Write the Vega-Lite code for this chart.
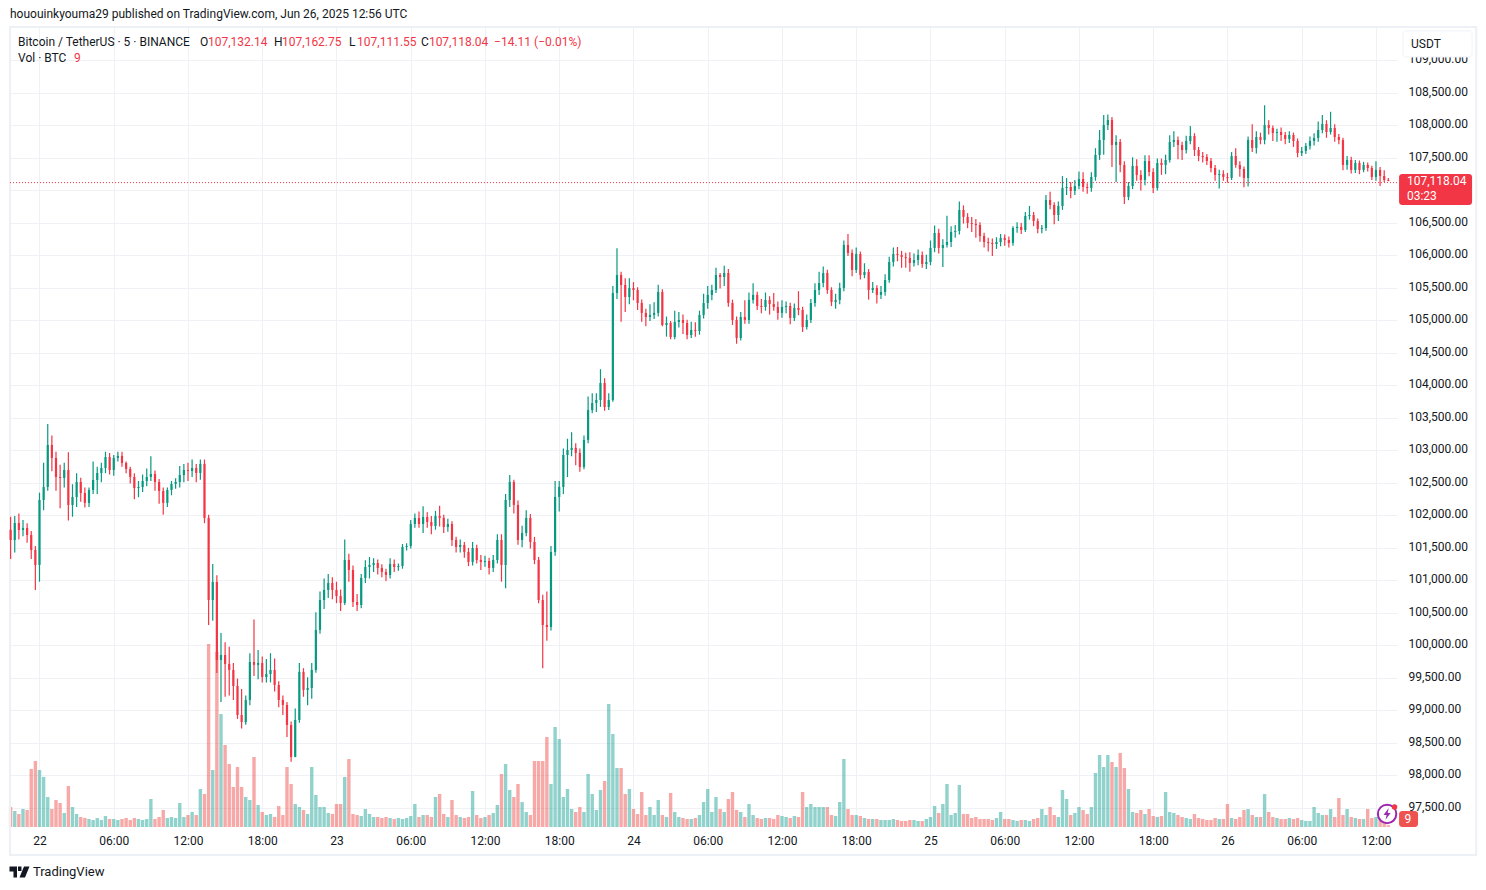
{"$schema":"https://vega.github.io/schema/vega-lite/v6.json","width":1387,"height":800,"autosize":{"type":"none"},"padding":{"left":10,"top":27,"right":89,"bottom":63},"background":"white","config":{"view":{"stroke":null},"font":"Roboto","text":{"font":"Roboto"}},
"datasets":{"boxes":[{"kind":"frame","t":"2025-06-21T21:37Z","t2":"2025-06-26T20:06Z","p":109513,"p2":96774}],
"tags":[{"kind":"usdt","t":"2025-06-26T14:11Z","t2":"2025-06-26T19:46Z","p":109451,"p2":109051},{"kind":"price","t":"2025-06-26T13:52Z","t2":"2025-06-26T19:46Z","p":107251,"p2":106774},{"kind":"vol","t":"2025-06-26T13:52Z","t2":"2025-06-26T15:24Z","p":97451,"p2":97205}],
"line":[{"t":"2025-06-21T21:37Z","t2":"2025-06-26T13:42Z","p":107118.04}],
"notes":[{"kind":"dark","t":"2025-06-21T21:37Z","p":109713,"label":"hououinkyouma29 published on TradingView.com, Jun 26, 2025 12:56 UTC"},{"kind":"dark","t":"2025-06-21T22:16Z","p":109282,"label":"Bitcoin / TetherUS · 5 · BINANCE"},{"kind":"dark","t":"2025-06-22T12:58Z","p":109282,"label":"O"},{"kind":"red","t":"2025-06-22T13:37Z","p":109282,"label":"107,132.14"},{"kind":"dark","t":"2025-06-22T18:57Z","p":109282,"label":"H"},{"kind":"red","t":"2025-06-22T19:36Z","p":109282,"label":"107,162.75"},{"kind":"dark","t":"2025-06-23T01:01Z","p":109282,"label":"L"},{"kind":"red","t":"2025-06-23T01:40Z","p":109282,"label":"107,111.55"},{"kind":"dark","t":"2025-06-23T06:50Z","p":109282,"label":"C"},{"kind":"red","t":"2025-06-23T07:28Z","p":109282,"label":"107,118.04"},{"kind":"red","t":"2025-06-23T12:44Z","p":109282,"label":"−14.11 (−0.01%)"},{"kind":"dark","t":"2025-06-21T22:16Z","p":109036,"label":"Vol · BTC"},{"kind":"red","t":"2025-06-22T02:47Z","p":109036,"label":"9"},{"kind":"dark","t":"2025-06-26T14:50Z","p":109251,"label":"USDT"},{"kind":"white","t":"2025-06-26T14:30Z","p":107145,"label":"107,118.04"},{"kind":"white","t":"2025-06-26T14:30Z","p":106905,"label":"03:23"},{"kind":"white","t":"2025-06-26T14:18Z","p":97328,"label":"9"},{"kind":"brand","t":"2025-06-21T23:28Z","p":96512,"label":"TradingView"}],
"icons":[{"kind":"ring","t":"2025-06-26T12:54Z","p":97405},{"kind":"dot","t":"2025-06-26T13:30Z","p":97513},{"kind":"logo","t":"2025-06-21T22:23Z","p":96512}],
"candles":[
{"t":"2025-06-21T21:40Z","o":101750,"h":101950,"l":101300,"c":101592,"v":100},
{"t":"2025-06-21T22:00Z","o":101592,"h":101960,"l":101400,"c":101854,"v":80},
{"t":"2025-06-21T22:20Z","o":101854,"h":102000,"l":101600,"c":101746,"v":65},
{"t":"2025-06-21T22:40Z","o":101746,"h":101900,"l":101650,"c":101777,"v":90},
{"t":"2025-06-21T23:00Z","o":101777,"h":101850,"l":101550,"c":101669,"v":85},
{"t":"2025-06-21T23:20Z","o":101669,"h":101730,"l":101300,"c":101438,"v":290},
{"t":"2025-06-21T23:40Z","o":101438,"h":101500,"l":100823,"c":101208,"v":330},
{"t":"2025-06-22T00:00Z","o":101208,"h":102320,"l":100950,"c":102208,"v":285},
{"t":"2025-06-22T00:20Z","o":102208,"h":102780,"l":102050,"c":102408,"v":250},
{"t":"2025-06-22T00:40Z","o":102408,"h":103377,"l":102350,"c":103054,"v":150},
{"t":"2025-06-22T01:00Z","o":103054,"h":103200,"l":102650,"c":102854,"v":90},
{"t":"2025-06-22T01:20Z","o":102854,"h":102950,"l":102350,"c":102562,"v":135},
{"t":"2025-06-22T01:40Z","o":102562,"h":102750,"l":102080,"c":102546,"v":120},
{"t":"2025-06-22T02:00Z","o":102546,"h":102780,"l":102400,"c":102669,"v":70},
{"t":"2025-06-22T02:20Z","o":102669,"h":102940,"l":101890,"c":102131,"v":205},
{"t":"2025-06-22T02:40Z","o":102131,"h":102450,"l":101950,"c":102254,"v":100},
{"t":"2025-06-22T03:00Z","o":102254,"h":102620,"l":102100,"c":102485,"v":65},
{"t":"2025-06-22T03:20Z","o":102485,"h":102550,"l":102180,"c":102315,"v":50},
{"t":"2025-06-22T03:40Z","o":102315,"h":102400,"l":102090,"c":102162,"v":45},
{"t":"2025-06-22T04:00Z","o":102162,"h":102400,"l":102100,"c":102362,"v":40},
{"t":"2025-06-22T04:20Z","o":102362,"h":102800,"l":102300,"c":102515,"v":35},
{"t":"2025-06-22T04:40Z","o":102515,"h":102720,"l":102300,"c":102623,"v":45},
{"t":"2025-06-22T05:00Z","o":102623,"h":102780,"l":102480,"c":102700,"v":35},
{"t":"2025-06-22T05:20Z","o":102700,"h":102950,"l":102620,"c":102869,"v":55},
{"t":"2025-06-22T05:40Z","o":102869,"h":102930,"l":102600,"c":102669,"v":40},
{"t":"2025-06-22T06:00Z","o":102669,"h":102900,"l":102580,"c":102854,"v":40},
{"t":"2025-06-22T06:20Z","o":102854,"h":102950,"l":102800,"c":102885,"v":35},
{"t":"2025-06-22T06:40Z","o":102885,"h":102950,"l":102720,"c":102777,"v":40},
{"t":"2025-06-22T07:00Z","o":102777,"h":102800,"l":102620,"c":102685,"v":45},
{"t":"2025-06-22T07:20Z","o":102685,"h":102720,"l":102460,"c":102562,"v":35},
{"t":"2025-06-22T07:40Z","o":102562,"h":102620,"l":102220,"c":102392,"v":45},
{"t":"2025-06-22T08:00Z","o":102392,"h":102500,"l":102250,"c":102408,"v":40},
{"t":"2025-06-22T08:20Z","o":102408,"h":102600,"l":102330,"c":102500,"v":35},
{"t":"2025-06-22T08:40Z","o":102500,"h":102690,"l":102420,"c":102562,"v":40},
{"t":"2025-06-22T09:00Z","o":102562,"h":102880,"l":102500,"c":102608,"v":140},
{"t":"2025-06-22T09:20Z","o":102608,"h":102660,"l":102350,"c":102485,"v":40},
{"t":"2025-06-22T09:40Z","o":102485,"h":102530,"l":102150,"c":102346,"v":50},
{"t":"2025-06-22T10:00Z","o":102346,"h":102400,"l":101980,"c":102162,"v":85},
{"t":"2025-06-22T10:20Z","o":102162,"h":102400,"l":102100,"c":102362,"v":45},
{"t":"2025-06-22T10:40Z","o":102362,"h":102500,"l":102280,"c":102454,"v":50},
{"t":"2025-06-22T11:00Z","o":102454,"h":102540,"l":102380,"c":102485,"v":45},
{"t":"2025-06-22T11:20Z","o":102485,"h":102730,"l":102400,"c":102592,"v":120},
{"t":"2025-06-22T11:40Z","o":102592,"h":102760,"l":102480,"c":102669,"v":50},
{"t":"2025-06-22T12:00Z","o":102669,"h":102780,"l":102500,"c":102654,"v":60},
{"t":"2025-06-22T12:20Z","o":102654,"h":102830,"l":102560,"c":102700,"v":75},
{"t":"2025-06-22T12:40Z","o":102700,"h":102760,"l":102480,"c":102623,"v":60},
{"t":"2025-06-22T13:00Z","o":102623,"h":102830,"l":102520,"c":102762,"v":190},
{"t":"2025-06-22T13:20Z","o":102762,"h":102830,"l":101850,"c":101931,"v":165},
{"t":"2025-06-22T13:40Z","o":101931,"h":101980,"l":100285,"c":100669,"v":915},
{"t":"2025-06-22T14:00Z","o":100669,"h":101223,"l":100350,"c":100946,"v":285},
{"t":"2025-06-22T14:20Z","o":100946,"h":101050,"l":99546,"c":99746,"v":875},
{"t":"2025-06-22T14:40Z","o":99746,"h":100162,"l":99100,"c":99823,"v":565},
{"t":"2025-06-22T15:00Z","o":99823,"h":100020,"l":99180,"c":99685,"v":410},
{"t":"2025-06-22T15:20Z","o":99685,"h":99950,"l":99200,"c":99592,"v":315},
{"t":"2025-06-22T15:40Z","o":99592,"h":99700,"l":99130,"c":99346,"v":200},
{"t":"2025-06-22T16:00Z","o":99346,"h":99460,"l":98840,"c":98900,"v":300},
{"t":"2025-06-22T16:20Z","o":98900,"h":99300,"l":98690,"c":98792,"v":200},
{"t":"2025-06-22T16:40Z","o":98792,"h":99200,"l":98750,"c":99131,"v":150},
{"t":"2025-06-22T17:00Z","o":99131,"h":99850,"l":99050,"c":99715,"v":135},
{"t":"2025-06-22T17:20Z","o":99715,"h":100370,"l":99500,"c":99670,"v":350},
{"t":"2025-06-22T17:40Z","o":99670,"h":99900,"l":99450,"c":99700,"v":110},
{"t":"2025-06-22T18:00Z","o":99700,"h":99800,"l":99400,"c":99485,"v":75},
{"t":"2025-06-22T18:20Z","o":99485,"h":99760,"l":99400,"c":99530,"v":60},
{"t":"2025-06-22T18:40Z","o":99530,"h":99850,"l":99400,"c":99592,"v":65},
{"t":"2025-06-22T19:00Z","o":99592,"h":99770,"l":99260,"c":99362,"v":50},
{"t":"2025-06-22T19:20Z","o":99362,"h":99420,"l":99020,"c":99131,"v":105},
{"t":"2025-06-22T19:40Z","o":99131,"h":99200,"l":98900,"c":99054,"v":60},
{"t":"2025-06-22T20:00Z","o":99054,"h":99100,"l":98560,"c":98746,"v":300},
{"t":"2025-06-22T20:20Z","o":98746,"h":98800,"l":98180,"c":98254,"v":215},
{"t":"2025-06-22T20:40Z","o":98254,"h":99000,"l":98250,"c":98823,"v":115},
{"t":"2025-06-22T21:00Z","o":98823,"h":99700,"l":98780,"c":99562,"v":100},
{"t":"2025-06-22T21:20Z","o":99562,"h":99620,"l":99180,"c":99285,"v":85},
{"t":"2025-06-22T21:40Z","o":99285,"h":99480,"l":99050,"c":99315,"v":65},
{"t":"2025-06-22T22:00Z","o":99315,"h":99700,"l":99150,"c":99592,"v":300},
{"t":"2025-06-22T22:20Z","o":99592,"h":100480,"l":99550,"c":100208,"v":160},
{"t":"2025-06-22T22:40Z","o":100208,"h":100800,"l":100150,"c":100669,"v":100},
{"t":"2025-06-22T23:00Z","o":100669,"h":101000,"l":100530,"c":100823,"v":100},
{"t":"2025-06-22T23:20Z","o":100823,"h":101070,"l":100700,"c":100931,"v":70},
{"t":"2025-06-22T23:40Z","o":100931,"h":101020,"l":100680,"c":100823,"v":65},
{"t":"2025-06-23T00:00Z","o":100823,"h":100950,"l":100620,"c":100731,"v":115},
{"t":"2025-06-23T00:20Z","o":100731,"h":100830,"l":100500,"c":100623,"v":115},
{"t":"2025-06-23T00:40Z","o":100623,"h":101600,"l":100590,"c":101285,"v":250},
{"t":"2025-06-23T01:00Z","o":101285,"h":101380,"l":100950,"c":101131,"v":340},
{"t":"2025-06-23T01:20Z","o":101131,"h":101200,"l":100560,"c":100638,"v":65},
{"t":"2025-06-23T01:40Z","o":100638,"h":100760,"l":100500,"c":100592,"v":60},
{"t":"2025-06-23T02:00Z","o":100592,"h":101070,"l":100540,"c":101008,"v":55},
{"t":"2025-06-23T02:20Z","o":101008,"h":101280,"l":100930,"c":101177,"v":90},
{"t":"2025-06-23T02:40Z","o":101177,"h":101330,"l":101000,"c":101208,"v":65},
{"t":"2025-06-23T03:00Z","o":101208,"h":101310,"l":101100,"c":101238,"v":50},
{"t":"2025-06-23T03:20Z","o":101238,"h":101290,"l":101060,"c":101162,"v":50},
{"t":"2025-06-23T03:40Z","o":101162,"h":101220,"l":101020,"c":101100,"v":45},
{"t":"2025-06-23T04:00Z","o":101100,"h":101150,"l":100960,"c":101054,"v":50},
{"t":"2025-06-23T04:20Z","o":101054,"h":101310,"l":101000,"c":101223,"v":45},
{"t":"2025-06-23T04:40Z","o":101223,"h":101290,"l":101100,"c":101177,"v":40},
{"t":"2025-06-23T05:00Z","o":101177,"h":101230,"l":101120,"c":101192,"v":45},
{"t":"2025-06-23T05:20Z","o":101192,"h":101530,"l":101150,"c":101485,"v":40},
{"t":"2025-06-23T05:40Z","o":101485,"h":101540,"l":101430,"c":101500,"v":45},
{"t":"2025-06-23T06:00Z","o":101500,"h":101900,"l":101460,"c":101838,"v":55},
{"t":"2025-06-23T06:20Z","o":101838,"h":102000,"l":101780,"c":101931,"v":115},
{"t":"2025-06-23T06:40Z","o":101931,"h":102030,"l":101780,"c":101838,"v":50},
{"t":"2025-06-23T07:00Z","o":101838,"h":102110,"l":101700,"c":101946,"v":60},
{"t":"2025-06-23T07:20Z","o":101946,"h":102020,"l":101780,"c":101869,"v":60},
{"t":"2025-06-23T07:40Z","o":101869,"h":101960,"l":101680,"c":101808,"v":50},
{"t":"2025-06-23T08:00Z","o":101808,"h":102040,"l":101750,"c":101962,"v":150},
{"t":"2025-06-23T08:20Z","o":101962,"h":102120,"l":101800,"c":101931,"v":165},
{"t":"2025-06-23T08:40Z","o":101931,"h":101980,"l":101700,"c":101792,"v":65},
{"t":"2025-06-23T09:00Z","o":101792,"h":101920,"l":101720,"c":101838,"v":50},
{"t":"2025-06-23T09:20Z","o":101838,"h":101880,"l":101500,"c":101592,"v":135},
{"t":"2025-06-23T09:40Z","o":101592,"h":101640,"l":101400,"c":101485,"v":60},
{"t":"2025-06-23T10:00Z","o":101485,"h":101600,"l":101400,"c":101515,"v":50},
{"t":"2025-06-23T10:20Z","o":101515,"h":101560,"l":101320,"c":101408,"v":45},
{"t":"2025-06-23T10:40Z","o":101408,"h":101470,"l":101190,"c":101254,"v":50},
{"t":"2025-06-23T11:00Z","o":101254,"h":101560,"l":101200,"c":101469,"v":180},
{"t":"2025-06-23T11:20Z","o":101469,"h":101520,"l":101230,"c":101285,"v":60},
{"t":"2025-06-23T11:40Z","o":101285,"h":101360,"l":101130,"c":101254,"v":45},
{"t":"2025-06-23T12:00Z","o":101254,"h":101350,"l":101180,"c":101269,"v":50},
{"t":"2025-06-23T12:20Z","o":101269,"h":101320,"l":101060,"c":101162,"v":60},
{"t":"2025-06-23T12:40Z","o":101162,"h":101360,"l":101100,"c":101285,"v":70},
{"t":"2025-06-23T13:00Z","o":101285,"h":101680,"l":101230,"c":101592,"v":110},
{"t":"2025-06-23T13:20Z","o":101592,"h":101680,"l":100950,"c":101208,"v":265},
{"t":"2025-06-23T13:40Z","o":101208,"h":102300,"l":100850,"c":102208,"v":315},
{"t":"2025-06-23T14:00Z","o":102208,"h":102590,"l":102100,"c":102485,"v":185},
{"t":"2025-06-23T14:20Z","o":102485,"h":102520,"l":102000,"c":102131,"v":150},
{"t":"2025-06-23T14:40Z","o":102131,"h":102200,"l":101520,"c":101592,"v":215},
{"t":"2025-06-23T15:00Z","o":101592,"h":101810,"l":101480,"c":101700,"v":125},
{"t":"2025-06-23T15:20Z","o":101700,"h":102050,"l":101650,"c":101931,"v":75},
{"t":"2025-06-23T15:40Z","o":101931,"h":101990,"l":101460,"c":101562,"v":60},
{"t":"2025-06-23T16:00Z","o":101562,"h":101640,"l":101220,"c":101285,"v":330},
{"t":"2025-06-23T16:20Z","o":101285,"h":101330,"l":100620,"c":100669,"v":330},
{"t":"2025-06-23T16:40Z","o":100669,"h":100750,"l":99620,"c":100285,"v":330},
{"t":"2025-06-23T17:00Z","o":100285,"h":100800,"l":100040,"c":100254,"v":450},
{"t":"2025-06-23T17:20Z","o":100254,"h":101500,"l":100200,"c":101408,"v":215},
{"t":"2025-06-23T17:40Z","o":101408,"h":102500,"l":101350,"c":102254,"v":500},
{"t":"2025-06-23T18:00Z","o":102254,"h":102500,"l":102030,"c":102408,"v":440},
{"t":"2025-06-23T18:20Z","o":102408,"h":103000,"l":102300,"c":102900,"v":150},
{"t":"2025-06-23T18:40Z","o":102900,"h":103150,"l":102560,"c":102977,"v":190},
{"t":"2025-06-23T19:00Z","o":102977,"h":103250,"l":102880,"c":103008,"v":90},
{"t":"2025-06-23T19:20Z","o":103008,"h":103080,"l":102740,"c":102931,"v":75},
{"t":"2025-06-23T19:40Z","o":102931,"h":103000,"l":102640,"c":102715,"v":100},
{"t":"2025-06-23T20:00Z","o":102715,"h":103200,"l":102680,"c":103131,"v":75},
{"t":"2025-06-23T20:20Z","o":103131,"h":103800,"l":103080,"c":103592,"v":265},
{"t":"2025-06-23T20:40Z","o":103592,"h":103850,"l":103540,"c":103700,"v":165},
{"t":"2025-06-23T21:00Z","o":103700,"h":103850,"l":103560,"c":103746,"v":85},
{"t":"2025-06-23T21:20Z","o":103746,"h":104220,"l":103640,"c":104008,"v":185},
{"t":"2025-06-23T21:40Z","o":104008,"h":104080,"l":103580,"c":103638,"v":230},
{"t":"2025-06-23T22:00Z","o":103638,"h":103850,"l":103590,"c":103746,"v":615},
{"t":"2025-06-23T22:20Z","o":103746,"h":105500,"l":103720,"c":105392,"v":465},
{"t":"2025-06-23T22:40Z","o":105392,"h":106080,"l":105300,"c":105669,"v":295},
{"t":"2025-06-23T23:00Z","o":105669,"h":105720,"l":104950,"c":105515,"v":295},
{"t":"2025-06-23T23:20Z","o":105515,"h":105620,"l":105100,"c":105331,"v":165},
{"t":"2025-06-23T23:40Z","o":105331,"h":105620,"l":105220,"c":105469,"v":190},
{"t":"2025-06-24T00:00Z","o":105469,"h":105560,"l":105280,"c":105438,"v":90},
{"t":"2025-06-24T00:20Z","o":105438,"h":105480,"l":105130,"c":105238,"v":65},
{"t":"2025-06-24T00:40Z","o":105238,"h":105290,"l":104950,"c":105085,"v":175},
{"t":"2025-06-24T01:00Z","o":105085,"h":105150,"l":104880,"c":105023,"v":60},
{"t":"2025-06-24T01:20Z","o":105023,"h":105220,"l":104960,"c":105054,"v":100},
{"t":"2025-06-24T01:40Z","o":105054,"h":105250,"l":104990,"c":105085,"v":60},
{"t":"2025-06-24T02:00Z","o":105085,"h":105520,"l":105030,"c":105408,"v":135},
{"t":"2025-06-24T02:20Z","o":105408,"h":105450,"l":104880,"c":104900,"v":60},
{"t":"2025-06-24T02:40Z","o":104900,"h":105030,"l":104720,"c":104931,"v":50},
{"t":"2025-06-24T03:00Z","o":104931,"h":104960,"l":104680,"c":104715,"v":170},
{"t":"2025-06-24T03:20Z","o":104715,"h":105120,"l":104680,"c":104946,"v":75},
{"t":"2025-06-24T03:40Z","o":104946,"h":105100,"l":104860,"c":104977,"v":50},
{"t":"2025-06-24T04:00Z","o":104977,"h":105060,"l":104760,"c":104931,"v":45},
{"t":"2025-06-24T04:20Z","o":104931,"h":104980,"l":104680,"c":104746,"v":40},
{"t":"2025-06-24T04:40Z","o":104746,"h":104950,"l":104700,"c":104823,"v":40},
{"t":"2025-06-24T05:00Z","o":104823,"h":104940,"l":104720,"c":104808,"v":45},
{"t":"2025-06-24T05:20Z","o":104808,"h":105120,"l":104750,"c":105054,"v":60},
{"t":"2025-06-24T05:40Z","o":105054,"h":105380,"l":105000,"c":105238,"v":125},
{"t":"2025-06-24T06:00Z","o":105238,"h":105500,"l":105150,"c":105362,"v":190},
{"t":"2025-06-24T06:20Z","o":105362,"h":105520,"l":105280,"c":105438,"v":75},
{"t":"2025-06-24T06:40Z","o":105438,"h":105780,"l":105390,"c":105669,"v":150},
{"t":"2025-06-24T07:00Z","o":105669,"h":105700,"l":105460,"c":105638,"v":90},
{"t":"2025-06-24T07:20Z","o":105638,"h":105810,"l":105500,"c":105700,"v":75},
{"t":"2025-06-24T07:40Z","o":105700,"h":105760,"l":105180,"c":105238,"v":140},
{"t":"2025-06-24T08:00Z","o":105238,"h":105290,"l":104900,"c":104977,"v":175},
{"t":"2025-06-24T08:20Z","o":104977,"h":105030,"l":104610,"c":104700,"v":85},
{"t":"2025-06-24T08:40Z","o":104700,"h":105100,"l":104660,"c":105023,"v":75},
{"t":"2025-06-24T09:00Z","o":105023,"h":105280,"l":104920,"c":104977,"v":50},
{"t":"2025-06-24T09:20Z","o":104977,"h":105400,"l":104920,"c":105285,"v":115},
{"t":"2025-06-24T09:40Z","o":105285,"h":105540,"l":105230,"c":105362,"v":60},
{"t":"2025-06-24T10:00Z","o":105362,"h":105410,"l":105130,"c":105192,"v":45},
{"t":"2025-06-24T10:20Z","o":105192,"h":105300,"l":105080,"c":105177,"v":40},
{"t":"2025-06-24T10:40Z","o":105177,"h":105400,"l":105120,"c":105285,"v":45},
{"t":"2025-06-24T11:00Z","o":105285,"h":105340,"l":105060,"c":105223,"v":45},
{"t":"2025-06-24T11:20Z","o":105223,"h":105390,"l":105120,"c":105177,"v":40},
{"t":"2025-06-24T11:40Z","o":105177,"h":105260,"l":104980,"c":105085,"v":60},
{"t":"2025-06-24T12:00Z","o":105085,"h":105280,"l":105010,"c":105177,"v":55},
{"t":"2025-06-24T12:20Z","o":105177,"h":105260,"l":105080,"c":105192,"v":50},
{"t":"2025-06-24T12:40Z","o":105192,"h":105240,"l":104910,"c":105008,"v":45},
{"t":"2025-06-24T13:00Z","o":105008,"h":105230,"l":104960,"c":105162,"v":55},
{"t":"2025-06-24T13:20Z","o":105162,"h":105420,"l":105050,"c":105131,"v":50},
{"t":"2025-06-24T13:40Z","o":105131,"h":105180,"l":104790,"c":104869,"v":175},
{"t":"2025-06-24T14:00Z","o":104869,"h":105060,"l":104830,"c":104977,"v":100},
{"t":"2025-06-24T14:20Z","o":104977,"h":105300,"l":104930,"c":105238,"v":115},
{"t":"2025-06-24T14:40Z","o":105238,"h":105540,"l":105180,"c":105438,"v":100},
{"t":"2025-06-24T15:00Z","o":105438,"h":105720,"l":105360,"c":105546,"v":100},
{"t":"2025-06-24T15:20Z","o":105546,"h":105800,"l":105480,"c":105700,"v":100},
{"t":"2025-06-24T15:40Z","o":105700,"h":105750,"l":105380,"c":105438,"v":100},
{"t":"2025-06-24T16:00Z","o":105438,"h":105480,"l":105190,"c":105254,"v":60},
{"t":"2025-06-24T16:20Z","o":105254,"h":105380,"l":105150,"c":105285,"v":55},
{"t":"2025-06-24T16:40Z","o":105285,"h":105550,"l":105220,"c":105469,"v":125},
{"t":"2025-06-24T17:00Z","o":105469,"h":106200,"l":105420,"c":106131,"v":340},
{"t":"2025-06-24T17:20Z","o":106131,"h":106300,"l":105960,"c":106008,"v":90},
{"t":"2025-06-24T17:40Z","o":106008,"h":106060,"l":105650,"c":105746,"v":60},
{"t":"2025-06-24T18:00Z","o":105746,"h":106090,"l":105700,"c":105992,"v":60},
{"t":"2025-06-24T18:20Z","o":105992,"h":106030,"l":105600,"c":105669,"v":55},
{"t":"2025-06-24T18:40Z","o":105669,"h":105850,"l":105620,"c":105715,"v":45},
{"t":"2025-06-24T19:00Z","o":105715,"h":105760,"l":105290,"c":105438,"v":40},
{"t":"2025-06-24T19:20Z","o":105438,"h":105560,"l":105390,"c":105469,"v":40},
{"t":"2025-06-24T19:40Z","o":105469,"h":105510,"l":105230,"c":105362,"v":40},
{"t":"2025-06-24T20:00Z","o":105362,"h":105500,"l":105300,"c":105408,"v":35},
{"t":"2025-06-24T20:20Z","o":105408,"h":105680,"l":105350,"c":105592,"v":35},
{"t":"2025-06-24T20:40Z","o":105592,"h":105950,"l":105550,"c":105869,"v":35},
{"t":"2025-06-24T21:00Z","o":105869,"h":106090,"l":105800,"c":105992,"v":40},
{"t":"2025-06-24T21:20Z","o":105992,"h":106100,"l":105880,"c":105977,"v":35},
{"t":"2025-06-24T21:40Z","o":105977,"h":106040,"l":105780,"c":105946,"v":30},
{"t":"2025-06-24T22:00Z","o":105946,"h":106010,"l":105780,"c":105931,"v":30},
{"t":"2025-06-24T22:20Z","o":105931,"h":106020,"l":105720,"c":105854,"v":35},
{"t":"2025-06-24T22:40Z","o":105854,"h":106000,"l":105800,"c":105900,"v":35},
{"t":"2025-06-24T23:00Z","o":105900,"h":106060,"l":105820,"c":105977,"v":30},
{"t":"2025-06-24T23:20Z","o":105977,"h":106030,"l":105780,"c":105838,"v":30},
{"t":"2025-06-24T23:40Z","o":105838,"h":105980,"l":105760,"c":105869,"v":40},
{"t":"2025-06-25T00:00Z","o":105869,"h":106200,"l":105820,"c":106085,"v":50},
{"t":"2025-06-25T00:20Z","o":106085,"h":106430,"l":106020,"c":106315,"v":105},
{"t":"2025-06-25T00:40Z","o":106315,"h":106380,"l":106000,"c":106085,"v":70},
{"t":"2025-06-25T01:00Z","o":106085,"h":106220,"l":105790,"c":106131,"v":115},
{"t":"2025-06-25T01:20Z","o":106131,"h":106580,"l":106090,"c":106177,"v":215},
{"t":"2025-06-25T01:40Z","o":106177,"h":106420,"l":106100,"c":106331,"v":60},
{"t":"2025-06-25T02:00Z","o":106331,"h":106440,"l":106240,"c":106346,"v":70},
{"t":"2025-06-25T02:20Z","o":106346,"h":106800,"l":106290,"c":106669,"v":210},
{"t":"2025-06-25T02:40Z","o":106669,"h":106740,"l":106460,"c":106562,"v":65},
{"t":"2025-06-25T03:00Z","o":106562,"h":106620,"l":106390,"c":106469,"v":65},
{"t":"2025-06-25T03:20Z","o":106469,"h":106560,"l":106330,"c":106454,"v":45},
{"t":"2025-06-25T03:40Z","o":106454,"h":106530,"l":106240,"c":106438,"v":50},
{"t":"2025-06-25T04:00Z","o":106438,"h":106480,"l":106180,"c":106269,"v":40},
{"t":"2025-06-25T04:20Z","o":106269,"h":106320,"l":106090,"c":106177,"v":40},
{"t":"2025-06-25T04:40Z","o":106177,"h":106240,"l":106030,"c":106162,"v":40},
{"t":"2025-06-25T05:00Z","o":106162,"h":106230,"l":105960,"c":106146,"v":35},
{"t":"2025-06-25T05:20Z","o":106146,"h":106250,"l":106070,"c":106177,"v":45},
{"t":"2025-06-25T05:40Z","o":106177,"h":106300,"l":106110,"c":106238,"v":75},
{"t":"2025-06-25T06:00Z","o":106238,"h":106290,"l":106120,"c":106208,"v":40},
{"t":"2025-06-25T06:20Z","o":106208,"h":106260,"l":106090,"c":106162,"v":40},
{"t":"2025-06-25T06:40Z","o":106162,"h":106420,"l":106120,"c":106392,"v":35},
{"t":"2025-06-25T07:00Z","o":106392,"h":106480,"l":106320,"c":106408,"v":30},
{"t":"2025-06-25T07:20Z","o":106408,"h":106470,"l":106300,"c":106362,"v":35},
{"t":"2025-06-25T07:40Z","o":106362,"h":106640,"l":106330,"c":106577,"v":35},
{"t":"2025-06-25T08:00Z","o":106577,"h":106730,"l":106520,"c":106592,"v":30},
{"t":"2025-06-25T08:20Z","o":106592,"h":106640,"l":106420,"c":106500,"v":40},
{"t":"2025-06-25T08:40Z","o":106500,"h":106540,"l":106310,"c":106377,"v":45},
{"t":"2025-06-25T09:00Z","o":106377,"h":106440,"l":106310,"c":106392,"v":90},
{"t":"2025-06-25T09:20Z","o":106392,"h":106900,"l":106350,"c":106823,"v":60},
{"t":"2025-06-25T09:40Z","o":106823,"h":106950,"l":106680,"c":106746,"v":100},
{"t":"2025-06-25T10:00Z","o":106746,"h":106790,"l":106450,"c":106592,"v":60},
{"t":"2025-06-25T10:20Z","o":106592,"h":106800,"l":106500,"c":106731,"v":50},
{"t":"2025-06-25T10:40Z","o":106731,"h":107190,"l":106670,"c":107008,"v":185},
{"t":"2025-06-25T11:00Z","o":107008,"h":107160,"l":106900,"c":107023,"v":140},
{"t":"2025-06-25T11:20Z","o":107023,"h":107100,"l":106850,"c":106962,"v":60},
{"t":"2025-06-25T11:40Z","o":106962,"h":107130,"l":106900,"c":107038,"v":70},
{"t":"2025-06-25T12:00Z","o":107038,"h":107260,"l":106990,"c":107146,"v":100},
{"t":"2025-06-25T12:20Z","o":107146,"h":107250,"l":106950,"c":107023,"v":85},
{"t":"2025-06-25T12:40Z","o":107023,"h":107080,"l":106920,"c":107008,"v":65},
{"t":"2025-06-25T13:00Z","o":107008,"h":107250,"l":106950,"c":107177,"v":100},
{"t":"2025-06-25T13:20Z","o":107177,"h":107620,"l":107120,"c":107515,"v":270},
{"t":"2025-06-25T13:40Z","o":107515,"h":107900,"l":107440,"c":107746,"v":360},
{"t":"2025-06-25T14:00Z","o":107746,"h":108130,"l":107520,"c":107977,"v":300},
{"t":"2025-06-25T14:20Z","o":107977,"h":108140,"l":107900,"c":108054,"v":360},
{"t":"2025-06-25T14:40Z","o":108054,"h":108100,"l":107330,"c":107669,"v":325},
{"t":"2025-06-25T15:00Z","o":107669,"h":107820,"l":107100,"c":107715,"v":300},
{"t":"2025-06-25T15:20Z","o":107715,"h":107760,"l":107250,"c":107362,"v":370},
{"t":"2025-06-25T15:40Z","o":107362,"h":107420,"l":106760,"c":106869,"v":295},
{"t":"2025-06-25T16:00Z","o":106869,"h":107100,"l":106820,"c":107038,"v":190},
{"t":"2025-06-25T16:20Z","o":107038,"h":107480,"l":106990,"c":107346,"v":75},
{"t":"2025-06-25T16:40Z","o":107346,"h":107450,"l":107120,"c":107208,"v":70},
{"t":"2025-06-25T17:00Z","o":107208,"h":107280,"l":106970,"c":107131,"v":85},
{"t":"2025-06-25T17:20Z","o":107131,"h":107510,"l":107050,"c":107423,"v":65},
{"t":"2025-06-25T17:40Z","o":107423,"h":107510,"l":107190,"c":107254,"v":90},
{"t":"2025-06-25T18:00Z","o":107254,"h":107310,"l":106930,"c":107008,"v":55},
{"t":"2025-06-25T18:20Z","o":107008,"h":107460,"l":106970,"c":107392,"v":50},
{"t":"2025-06-25T18:40Z","o":107392,"h":107460,"l":107210,"c":107362,"v":55},
{"t":"2025-06-25T19:00Z","o":107362,"h":107520,"l":107220,"c":107438,"v":175},
{"t":"2025-06-25T19:20Z","o":107438,"h":107820,"l":107400,"c":107715,"v":75},
{"t":"2025-06-25T19:40Z","o":107715,"h":107880,"l":107640,"c":107746,"v":70},
{"t":"2025-06-25T20:00Z","o":107746,"h":107800,"l":107450,"c":107669,"v":60},
{"t":"2025-06-25T20:20Z","o":107669,"h":107720,"l":107440,"c":107592,"v":50},
{"t":"2025-06-25T20:40Z","o":107592,"h":107810,"l":107540,"c":107731,"v":45},
{"t":"2025-06-25T21:00Z","o":107731,"h":107960,"l":107680,"c":107808,"v":40},
{"t":"2025-06-25T21:20Z","o":107808,"h":107850,"l":107500,"c":107592,"v":65},
{"t":"2025-06-25T21:40Z","o":107592,"h":107640,"l":107420,"c":107500,"v":45},
{"t":"2025-06-25T22:00Z","o":107500,"h":107560,"l":107400,"c":107485,"v":40},
{"t":"2025-06-25T22:20Z","o":107485,"h":107530,"l":107360,"c":107423,"v":35},
{"t":"2025-06-25T22:40Z","o":107423,"h":107470,"l":107250,"c":107315,"v":35},
{"t":"2025-06-25T23:00Z","o":107315,"h":107360,"l":107120,"c":107208,"v":45},
{"t":"2025-06-25T23:20Z","o":107208,"h":107290,"l":107000,"c":107223,"v":40},
{"t":"2025-06-25T23:40Z","o":107223,"h":107280,"l":107120,"c":107177,"v":40},
{"t":"2025-06-26T00:00Z","o":107177,"h":107240,"l":107090,"c":107162,"v":115},
{"t":"2025-06-26T00:20Z","o":107162,"h":107560,"l":107130,"c":107500,"v":45},
{"t":"2025-06-26T00:40Z","o":107500,"h":107620,"l":107320,"c":107362,"v":40},
{"t":"2025-06-26T01:00Z","o":107362,"h":107420,"l":107180,"c":107300,"v":50},
{"t":"2025-06-26T01:20Z","o":107300,"h":107340,"l":107020,"c":107162,"v":85},
{"t":"2025-06-26T01:40Z","o":107162,"h":107800,"l":107030,"c":107746,"v":90},
{"t":"2025-06-26T02:00Z","o":107746,"h":107990,"l":107560,"c":107623,"v":60},
{"t":"2025-06-26T02:20Z","o":107623,"h":107880,"l":107540,"c":107792,"v":50},
{"t":"2025-06-26T02:40Z","o":107792,"h":107860,"l":107680,"c":107746,"v":50},
{"t":"2025-06-26T03:00Z","o":107746,"h":108280,"l":107680,"c":107977,"v":165},
{"t":"2025-06-26T03:20Z","o":107977,"h":108050,"l":107830,"c":107931,"v":75},
{"t":"2025-06-26T03:40Z","o":107931,"h":107970,"l":107730,"c":107854,"v":50},
{"t":"2025-06-26T04:00Z","o":107854,"h":107920,"l":107720,"c":107869,"v":45},
{"t":"2025-06-26T04:20Z","o":107869,"h":107940,"l":107730,"c":107823,"v":40},
{"t":"2025-06-26T04:40Z","o":107823,"h":107870,"l":107680,"c":107762,"v":40},
{"t":"2025-06-26T05:00Z","o":107762,"h":107880,"l":107700,"c":107823,"v":45},
{"t":"2025-06-26T05:20Z","o":107823,"h":107860,"l":107640,"c":107731,"v":40},
{"t":"2025-06-26T05:40Z","o":107731,"h":107770,"l":107480,"c":107546,"v":45},
{"t":"2025-06-26T06:00Z","o":107546,"h":107640,"l":107500,"c":107577,"v":35},
{"t":"2025-06-26T06:20Z","o":107577,"h":107700,"l":107530,"c":107654,"v":30},
{"t":"2025-06-26T06:40Z","o":107654,"h":107800,"l":107600,"c":107731,"v":30},
{"t":"2025-06-26T07:00Z","o":107731,"h":107850,"l":107660,"c":107777,"v":100},
{"t":"2025-06-26T07:20Z","o":107777,"h":108030,"l":107720,"c":107900,"v":70},
{"t":"2025-06-26T07:40Z","o":107900,"h":108130,"l":107850,"c":107992,"v":60},
{"t":"2025-06-26T08:00Z","o":107992,"h":108050,"l":107780,"c":107869,"v":60},
{"t":"2025-06-26T08:20Z","o":107869,"h":108180,"l":107830,"c":107931,"v":90},
{"t":"2025-06-26T08:40Z","o":107931,"h":107990,"l":107720,"c":107792,"v":50},
{"t":"2025-06-26T09:00Z","o":107792,"h":107840,"l":107680,"c":107746,"v":145},
{"t":"2025-06-26T09:20Z","o":107746,"h":107780,"l":107280,"c":107362,"v":60},
{"t":"2025-06-26T09:40Z","o":107362,"h":107500,"l":107290,"c":107438,"v":90},
{"t":"2025-06-26T10:00Z","o":107438,"h":107490,"l":107230,"c":107285,"v":50},
{"t":"2025-06-26T10:20Z","o":107285,"h":107440,"l":107240,"c":107392,"v":45},
{"t":"2025-06-26T10:40Z","o":107392,"h":107430,"l":107220,"c":107285,"v":40},
{"t":"2025-06-26T11:00Z","o":107285,"h":107410,"l":107250,"c":107362,"v":40},
{"t":"2025-06-26T11:20Z","o":107362,"h":107400,"l":107260,"c":107315,"v":90},
{"t":"2025-06-26T11:40Z","o":107315,"h":107350,"l":107130,"c":107177,"v":45},
{"t":"2025-06-26T12:00Z","o":107177,"h":107420,"l":107120,"c":107285,"v":50},
{"t":"2025-06-26T12:20Z","o":107285,"h":107330,"l":107040,"c":107192,"v":45},
{"t":"2025-06-26T12:40Z","o":107192,"h":107280,"l":107100,"c":107132,"v":30},
{"t":"2025-06-26T13:00Z","o":107132.14,"h":107162.75,"l":107111.55,"c":107118.04,"v":9}
]},
"resolve":{"scale":{"y":"independent"}},
"layer":[
{"data":{"name":"candles"},"mark":{"type":"bar","width":3.4,"opacity":0.5},"encoding":{"x":{"field":"t","type":"temporal","title":null,"scale":{"type":"utc","padding":0,"domain":["2025-06-21T21:37Z","2025-06-26T13:42Z"]},"axis":{"values":["2025-06-22T00:00Z","2025-06-22T06:00Z","2025-06-22T12:00Z","2025-06-22T18:00Z","2025-06-23T00:00Z","2025-06-23T06:00Z","2025-06-23T12:00Z","2025-06-23T18:00Z","2025-06-24T00:00Z","2025-06-24T06:00Z","2025-06-24T12:00Z","2025-06-24T18:00Z","2025-06-25T00:00Z","2025-06-25T06:00Z","2025-06-25T12:00Z","2025-06-25T18:00Z","2025-06-26T00:00Z","2025-06-26T06:00Z","2025-06-26T12:00Z"],"labelExpr":"utchours(datum.value)==0 ? utcFormat(datum.value,'%-d') : utcFormat(datum.value,'%H:%M')","labelFont":"Roboto","labelFontSize":12,"labelColor":"#131722","labelPadding":8,"labelOverlap":false,"labelFlush":false,"domain":false,"ticks":false,"grid":true,"gridColor":"#EFF1F5","gridWidth":1}},"y":{"field":"v","type":"quantitative","title":null,"scale":{"domain":[0,4000],"nice":false,"zero":true},"axis":null},"color":{"condition":{"test":"datum.c>=datum.o","value":"#26A69A"},"value":"#EF5350"}}},
{"layer":[
{"data":{"name":"boxes"},"mark":{"type":"rect","fill":"transparent","stroke":"#EDF0F5","strokeWidth":2},"encoding":{"x":{"field":"t","type":"temporal","title":null,"scale":{"type":"utc"}},"x2":{"field":"t2"},"y":{"field":"p","type":"quantitative","title":null,"scale":{"domain":[97204,109512],"nice":false,"zero":false},"axis":{"orient":"right","tickCount":40,"values":[97500,98000,98500,99000,99500,100000,100500,101000,101500,102000,102500,103000,103500,104000,104500,105000,105500,106000,106500,107000,107500,108000,108500,109000],"format":",.2f","labelFont":"Roboto","labelFontSize":12,"labelColor":"#131722","labelPadding":11,"labelOffset":-1.5,"domain":false,"ticks":false,"grid":true,"gridColor":"#EFF1F5","gridWidth":1,"labelOverlap":false,"labelBound":false}},"y2":{"field":"p2"}}},
{"data":{"name":"line"},"mark":{"type":"rule","color":"#F23645","strokeWidth":1,"strokeDash":[1,2]},"encoding":{"x":{"field":"t","type":"temporal","title":null,"scale":{"type":"utc"}},"x2":{"field":"t2"},"y":{"field":"p","type":"quantitative","title":null}}},
{"data":{"name":"candles"},"mark":{"type":"rule","strokeWidth":1.2,"yOffset":-1.8,"y2Offset":-1.8},"encoding":{"x":{"field":"t","type":"temporal","title":null,"scale":{"type":"utc"}},"y":{"field":"l","type":"quantitative","title":null},"y2":{"field":"h"},"color":{"condition":{"test":"datum.c>=datum.o","value":"#089981"},"value":"#F23645"}}},
{"data":{"name":"candles"},"mark":{"type":"bar","width":2.2,"yOffset":-1.8,"y2Offset":-1.8},"encoding":{"x":{"field":"t","type":"temporal","title":null,"scale":{"type":"utc"}},"y":{"field":"o","type":"quantitative","title":null},"y2":{"field":"c"},"color":{"condition":{"test":"datum.c>=datum.o","value":"#089981"},"value":"#F23645"}}},
{"data":{"name":"tags"},"mark":{"type":"rect","clip":false,"cornerRadius":3},"encoding":{"x":{"field":"t","type":"temporal","title":null,"scale":{"type":"utc"}},"x2":{"field":"t2"},"y":{"field":"p","type":"quantitative","title":null},"y2":{"field":"p2"},"color":{"field":"kind","type":"nominal","legend":null,"scale":{"domain":["usdt","price","vol"],"range":["#FFFFFF","#F23645","#EF5350"]}},"stroke":{"condition":{"test":"datum.kind=='usdt'","value":"#F0F3FA"},"value":"transparent"}}},
{"data":{"name":"notes"},"mark":{"type":"text","align":"left","baseline":"middle","font":"Roboto","fontSize":12},"encoding":{"x":{"field":"t","type":"temporal","title":null,"scale":{"type":"utc"}},"y":{"field":"p","type":"quantitative","title":null},"text":{"field":"label"},"color":{"condition":[{"test":"datum.kind=='red'","value":"#F23645"},{"test":"datum.kind=='white'","value":"#FFFFFF"}],"value":"#131722"},"fontWeight":{"condition":{"test":"datum.kind=='white'","value":"bold"},"value":"normal"},"size":{"condition":{"test":"datum.kind=='brand'","value":13},"value":12}}},
{"data":{"name":"icons"},"transform":[{"filter":"datum.kind=='ring'"}],"mark":{"type":"point","filled":false,"shape":"circle","size":340,"stroke":"#9C27B0","strokeWidth":2,"fill":"white","fillOpacity":0.85,"opacity":1},"encoding":{"x":{"field":"t","type":"temporal","title":null,"scale":{"type":"utc"}},"y":{"field":"p","type":"quantitative","title":null}}},
{"data":{"name":"icons"},"transform":[{"filter":"datum.kind=='ring'"}],"mark":{"type":"point","filled":true,"shape":"M0.25,-0.9 L-0.55,0.15 L-0.08,0.15 L-0.25,0.9 L0.55,-0.15 L0.08,-0.15 Z","size":170,"color":"#9C27B0","opacity":1},"encoding":{"x":{"field":"t","type":"temporal","title":null,"scale":{"type":"utc"}},"y":{"field":"p","type":"quantitative","title":null}}},
{"data":{"name":"icons"},"transform":[{"filter":"datum.kind=='dot'"}],"mark":{"type":"point","filled":true,"shape":"circle","size":30,"color":"#F23645","opacity":1},"encoding":{"x":{"field":"t","type":"temporal","title":null,"scale":{"type":"utc"}},"y":{"field":"p","type":"quantitative","title":null}}},
{"data":{"name":"icons"},"transform":[{"filter":"datum.kind=='logo'"}],"mark":{"type":"point","filled":true,"shape":"M-1,-0.55 L-0.25,-0.55 L-0.25,0.55 L-0.6,0.55 L-0.6,-0.05 L-1,-0.05 Z M-0.15,-0.55 L0.2,-0.55 L0.2,-0.1 L-0.15,-0.1 Z M0.45,-0.55 L1,-0.55 L0.55,0.55 L0,0.55 Z","size":400,"color":"#131722","opacity":1},"encoding":{"x":{"field":"t","type":"temporal","title":null,"scale":{"type":"utc"}},"y":{"field":"p","type":"quantitative","title":null}}}
]}
]}
